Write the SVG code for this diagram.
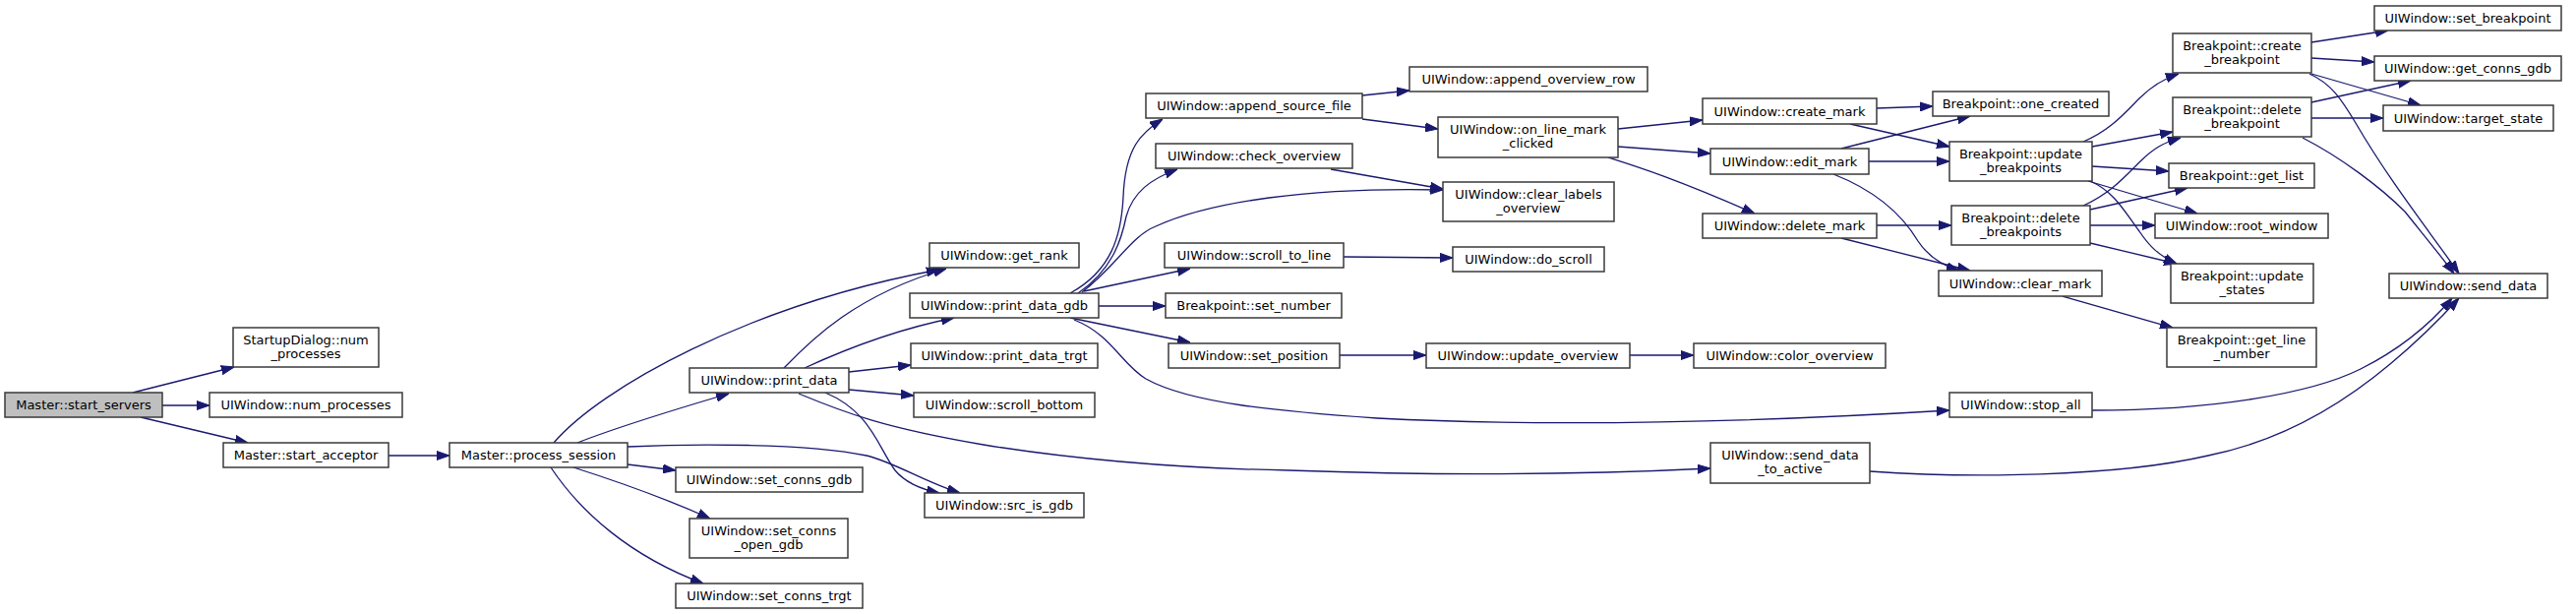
<svg xmlns="http://www.w3.org/2000/svg" width="2619" height="624" viewBox="0 0 2619 624">
<style>
.n rect{fill:#fff;stroke:#3a3a3a;stroke-width:1.5}
.n text{font-family:"DejaVu Sans",sans-serif;font-size:13px;fill:#000;text-anchor:middle}
.root rect{fill:#bfbfbf}
.e path{fill:none;stroke:#191970;stroke-width:1.3;marker-end:url(#ah)}
</style>
<defs>
<marker id="ah" markerUnits="userSpaceOnUse" markerWidth="13" markerHeight="10" refX="13" refY="5" orient="auto">
<path d="M0,0.5 L13,5 L0,9.5 z" fill="#191970" stroke="#191970" stroke-width="1"/>
</marker>
</defs>
<rect width="2619" height="624" fill="#fff"/>
<g id="connectors" class="e">
<path d="M135,399 L238,373"/>
<path d="M165,412 L213,412"/>
<path d="M143,424 L252,450"/>
<path d="M395,463 L457,463"/>
<path d="M563,450 C610,395 760,310 955,274"/>
<path d="M797,374 C825,345 870,300 962,273"/>
<path d="M587,450 C620,437 680,418 741,400"/>
<path d="M818,374 C870,350 920,333 970,323"/>
<path d="M863,378 L926,371"/>
<path d="M863,396 L929,402"/>
<path d="M839,399 C885,418 893,455 910,478 C920,490 935,497 955,501"/>
<path d="M812,400 C860,420 900,435 1000,452 C1100,468 1200,476 1310,478 C1450,483 1600,483 1739,476"/>
<path d="M638,454 C700,451 820,450 881,463 C910,470 940,490 976,501"/>
<path d="M638,472 L687,478"/>
<path d="M583,475 C630,490 680,508 722,527"/>
<path d="M560,475 C590,520 640,565 715,593"/>
<path d="M1088,298 C1130,275 1140,240 1142,200 C1144,150 1160,135 1182,121"/>
<path d="M1096,298 C1130,275 1140,245 1145,220 C1152,195 1170,182 1197,172"/>
<path d="M1100,297 C1135,270 1150,240 1175,230 C1230,205 1330,190 1467,193"/>
<path d="M1102,296 L1210,273"/>
<path d="M1117,311 L1185,311"/>
<path d="M1088,323 L1210,348"/>
<path d="M1092,325 C1130,340 1140,370 1165,385 C1210,410 1300,418 1400,425 C1600,435 1800,428 1982,417"/>
<path d="M1385,97 L1433,92"/>
<path d="M1385,121 L1462,131"/>
<path d="M1353,172 L1467,192"/>
<path d="M1366,261 L1477,262"/>
<path d="M1362,361 L1450,361"/>
<path d="M1657,361 L1722,361"/>
<path d="M1645,131 L1731,122"/>
<path d="M1645,149 L1739,156"/>
<path d="M1635,160 C1660,168 1700,180 1784,217"/>
<path d="M1908,110 L1965,108"/>
<path d="M1881,126 L1982,149"/>
<path d="M1872,151 L2003,118"/>
<path d="M1900,164 L1982,164"/>
<path d="M1864,177 C1910,195 1935,220 1950,245 C1960,260 1975,270 1992,275"/>
<path d="M1908,229 L1984,229"/>
<path d="M1872,242 L2003,275"/>
<path d="M2118,144 C2145,133 2160,115 2175,100 C2188,87 2200,80 2215,75"/>
<path d="M2127,149 L2209,134"/>
<path d="M2127,169 L2205,174"/>
<path d="M2123,184 L2234,217"/>
<path d="M2125,184 C2150,195 2160,215 2175,235 C2185,250 2195,260 2213,268"/>
<path d="M2118,209 C2145,197 2160,180 2175,165 C2190,150 2200,145 2217,140"/>
<path d="M2125,213 L2224,191"/>
<path d="M2125,229 L2191,229"/>
<path d="M2125,247 L2213,268"/>
<path d="M2097,301 L2209,333"/>
<path d="M2350,43 L2428,31"/>
<path d="M2350,59 L2414,63"/>
<path d="M2350,75 L2461,107"/>
<path d="M2348,75 C2370,85 2380,100 2395,125 C2430,185 2470,235 2500,278"/>
<path d="M2350,104 L2451,82"/>
<path d="M2350,120 L2423,120"/>
<path d="M2341,140 C2380,160 2420,190 2445,215 C2465,240 2480,258 2495,278"/>
<path d="M2127,417 C2250,417 2350,400 2400,375 C2440,355 2470,330 2493,303"/>
<path d="M1901,479 C2000,486 2150,485 2245,463 C2320,448 2380,412 2430,370 C2460,345 2480,325 2500,303"/>
</g>
<g id="n_start_servers" class="n root"><rect x="5" y="399" width="160" height="25"/><text x="85" y="416">Master::start_servers</text></g>
<g id="n_startup_num_processes" class="n"><rect x="237" y="333" width="148" height="40"/><text x="311" y="350">StartupDialog::num</text><text x="311" y="364">_processes</text></g>
<g id="n_num_processes" class="n"><rect x="213" y="399" width="196" height="25"/><text x="311" y="416">UIWindow::num_processes</text></g>
<g id="n_start_acceptor" class="n"><rect x="227" y="450" width="168" height="25"/><text x="311" y="467">Master::start_acceptor</text></g>
<g id="n_process_session" class="n"><rect x="457" y="450" width="181" height="25"/><text x="547.5" y="467">Master::process_session</text></g>
<g id="n_get_rank" class="n"><rect x="945" y="247" width="152" height="25"/><text x="1021" y="264">UIWindow::get_rank</text></g>
<g id="n_print_data" class="n"><rect x="701" y="374" width="162" height="25"/><text x="782" y="391">UIWindow::print_data</text></g>
<g id="n_print_data_gdb" class="n"><rect x="925" y="298" width="192" height="25"/><text x="1021" y="315">UIWindow::print_data_gdb</text></g>
<g id="n_print_data_trgt" class="n"><rect x="926" y="349" width="190" height="25"/><text x="1021" y="366">UIWindow::print_data_trgt</text></g>
<g id="n_scroll_bottom" class="n"><rect x="929" y="399" width="184" height="25"/><text x="1021" y="416">UIWindow::scroll_bottom</text></g>
<g id="n_set_conns_gdb" class="n"><rect x="687" y="475" width="190" height="25"/><text x="782" y="492">UIWindow::set_conns_gdb</text></g>
<g id="n_src_is_gdb" class="n"><rect x="940" y="501" width="162" height="25"/><text x="1021" y="518">UIWindow::src_is_gdb</text></g>
<g id="n_set_conns_open_gdb" class="n"><rect x="701" y="527" width="161" height="40"/><text x="781.5" y="544">UIWindow::set_conns</text><text x="781.5" y="558">_open_gdb</text></g>
<g id="n_set_conns_trgt" class="n"><rect x="687" y="593" width="190" height="25"/><text x="782" y="610">UIWindow::set_conns_trgt</text></g>
<g id="n_append_source_file" class="n"><rect x="1165" y="95" width="220" height="25"/><text x="1275" y="112">UIWindow::append_source_file</text></g>
<g id="n_check_overview" class="n"><rect x="1175" y="146" width="200" height="25"/><text x="1275" y="163">UIWindow::check_overview</text></g>
<g id="n_scroll_to_line" class="n"><rect x="1184" y="247" width="182" height="25"/><text x="1275" y="264">UIWindow::scroll_to_line</text></g>
<g id="n_set_number" class="n"><rect x="1185" y="298" width="179" height="25"/><text x="1274.5" y="315">Breakpoint::set_number</text></g>
<g id="n_set_position" class="n"><rect x="1188" y="349" width="174" height="25"/><text x="1275" y="366">UIWindow::set_position</text></g>
<g id="n_append_overview_row" class="n"><rect x="1433" y="68" width="242" height="25"/><text x="1554" y="85">UIWindow::append_overview_row</text></g>
<g id="n_on_line_mark_clicked" class="n"><rect x="1462" y="119" width="183" height="41"/><text x="1553.5" y="136">UIWindow::on_line_mark</text><text x="1553.5" y="150">_clicked</text></g>
<g id="n_clear_labels_overview" class="n"><rect x="1467" y="185" width="174" height="40"/><text x="1554" y="202">UIWindow::clear_labels</text><text x="1554" y="216">_overview</text></g>
<g id="n_do_scroll" class="n"><rect x="1477" y="251" width="154" height="25"/><text x="1554" y="268">UIWindow::do_scroll</text></g>
<g id="n_update_overview" class="n"><rect x="1450" y="349" width="207" height="25"/><text x="1553.5" y="366">UIWindow::update_overview</text></g>
<g id="n_color_overview" class="n"><rect x="1722" y="349" width="195" height="25"/><text x="1819.5" y="366">UIWindow::color_overview</text></g>
<g id="n_create_mark" class="n"><rect x="1731" y="100" width="177" height="26"/><text x="1819.5" y="118">UIWindow::create_mark</text></g>
<g id="n_edit_mark" class="n"><rect x="1739" y="151" width="161" height="26"/><text x="1819.5" y="169">UIWindow::edit_mark</text></g>
<g id="n_delete_mark" class="n"><rect x="1731" y="217" width="177" height="25"/><text x="1819.5" y="234">UIWindow::delete_mark</text></g>
<g id="n_send_data_to_active" class="n"><rect x="1739" y="450" width="162" height="41"/><text x="1820" y="467">UIWindow::send_data</text><text x="1820" y="481">_to_active</text></g>
<g id="n_one_created" class="n"><rect x="1965" y="93" width="179" height="25"/><text x="2054.5" y="110">Breakpoint::one_created</text></g>
<g id="n_update_breakpoints" class="n"><rect x="1982" y="144" width="145" height="40"/><text x="2054.5" y="161">Breakpoint::update</text><text x="2054.5" y="175">_breakpoints</text></g>
<g id="n_delete_breakpoints" class="n"><rect x="1984" y="209" width="141" height="40"/><text x="2054.5" y="226">Breakpoint::delete</text><text x="2054.5" y="240">_breakpoints</text></g>
<g id="n_clear_mark" class="n"><rect x="1971" y="275" width="166" height="26"/><text x="2054" y="293">UIWindow::clear_mark</text></g>
<g id="n_stop_all" class="n"><rect x="1982" y="399" width="145" height="25"/><text x="2054.5" y="416">UIWindow::stop_all</text></g>
<g id="n_create_breakpoint" class="n"><rect x="2209" y="34" width="141" height="40"/><text x="2279.5" y="51">Breakpoint::create</text><text x="2279.5" y="65">_breakpoint</text></g>
<g id="n_delete_breakpoint" class="n"><rect x="2209" y="99" width="141" height="40"/><text x="2279.5" y="116">Breakpoint::delete</text><text x="2279.5" y="130">_breakpoint</text></g>
<g id="n_get_list" class="n"><rect x="2205" y="166" width="148" height="25"/><text x="2279" y="183">Breakpoint::get_list</text></g>
<g id="n_root_window" class="n"><rect x="2191" y="217" width="176" height="25"/><text x="2279" y="234">UIWindow::root_window</text></g>
<g id="n_update_states" class="n"><rect x="2207" y="268" width="145" height="40"/><text x="2279.5" y="285">Breakpoint::update</text><text x="2279.5" y="299">_states</text></g>
<g id="n_get_line_number" class="n"><rect x="2203" y="333" width="152" height="40"/><text x="2279" y="350">Breakpoint::get_line</text><text x="2279" y="364">_number</text></g>
<g id="n_set_breakpoint" class="n"><rect x="2414" y="6" width="190" height="25"/><text x="2509" y="23">UIWindow::set_breakpoint</text></g>
<g id="n_get_conns_gdb" class="n"><rect x="2414" y="57" width="190" height="25"/><text x="2509" y="74">UIWindow::get_conns_gdb</text></g>
<g id="n_target_state" class="n"><rect x="2423" y="107" width="173" height="26"/><text x="2509.5" y="125">UIWindow::target_state</text></g>
<g id="n_send_data" class="n"><rect x="2429" y="278" width="161" height="25"/><text x="2509.5" y="295">UIWindow::send_data</text></g>
</svg>
